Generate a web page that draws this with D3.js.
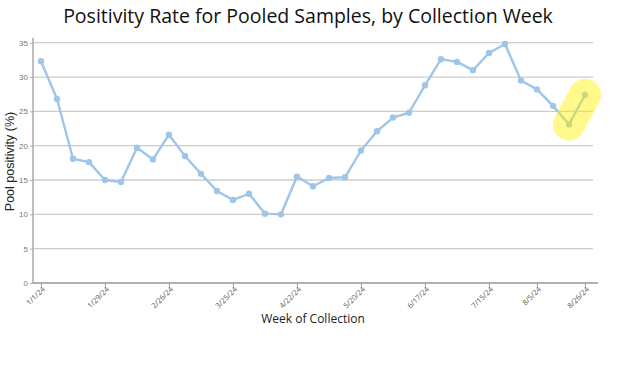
<!DOCTYPE html>
<html>
<head>
<meta charset="utf-8">
<script src="https://cdn.jsdelivr.net/npm/d3@7"></script>
<style>
  body { margin: 0; background: #fff; }
  svg { display: block; }
</style>
</head>
<body>
<div id="wrapper"></div>
<script>
// data
const weeks = ["1/1/24","1/8/24","1/15/24","1/22/24","1/29/24","2/5/24","2/12/24","2/19/24",
  "2/26/24","3/4/24","3/11/24","3/18/24","3/25/24","4/1/24","4/8/24","4/15/24",
  "4/22/24","4/29/24","5/6/24","5/13/24","5/20/24","5/27/24","6/3/24","6/10/24",
  "6/17/24","6/24/24","7/1/24","7/8/24","7/15/24","7/22/24","7/29/24","8/5/24",
  "8/12/24","8/19/24","8/26/24"];
const positivity = [32.3, 26.8, 18.1, 17.6, 15.0, 14.7, 19.7, 18.0, 21.6, 18.5,
  15.9, 13.4, 12.1, 13.0, 10.1, 10.0, 15.5, 14.1, 15.3, 15.4,
  19.3, 22.1, 24.1, 24.8, 28.8, 32.6, 32.2, 31.0, 33.5, 34.8,
  29.5, 28.2, 25.8, 23.1, 27.4];
const tickWeeks = ["1/1/24","1/29/24","2/26/24","3/25/24","4/22/24","5/20/24","6/17/24","7/15/24","8/5/24","8/26/24"];
const yTicks = [0, 5, 10, 15, 20, 25, 30, 35];
const highlightWeeks = ["8/19/24", "8/26/24"];

const dataset = weeks.map((w, i) => ({ week: w, value: positivity[i] }));
const xAccessor = d => d.week;
const yAccessor = d => d.value;

// dimensions
const dimensions = {
  width: 642,
  height: 376,
  margin: { top: 40, right: 49, bottom: 93, left: 33 }
};
dimensions.boundedWidth = dimensions.width - dimensions.margin.left - dimensions.margin.right;
dimensions.boundedHeight = dimensions.height - dimensions.margin.top - dimensions.margin.bottom;

const wrapper = d3.select('#wrapper')
  .append('svg')
  .attr('width', dimensions.width)
  .attr('height', dimensions.height);

const bounds = wrapper.append('g')
  .attr('transform', `translate(${dimensions.margin.left},${dimensions.margin.top})`);

// scales
const xScale = d3.scaleBand()
  .domain(weeks)
  .range([0, dimensions.boundedWidth]);
const xPos = w => xScale(w) + xScale.bandwidth() / 2;

const yScale = d3.scaleLinear()
  .domain([0, 35])
  .range([dimensions.boundedHeight, 2.7]);

// gridlines
bounds.append('g')
  .selectAll('line')
  .data(yTicks.filter(t => t > 0))
  .join('line')
  .attr('x1', 0)
  .attr('x2', dimensions.boundedWidth)
  .attr('y1', d => yScale(d))
  .attr('y2', d => yScale(d))
  .attr('stroke', '#cccccc')
  .attr('stroke-width', 1.3);

// axes
const yAxis = bounds.append('g')
  .call(d3.axisLeft(yScale).tickValues(yTicks).tickSize(3).tickPadding(2));
yAxis.select('.domain').attr('stroke', '#aaa').attr('stroke-width', 1.5)
  .attr('d', `M0,${yScale(35) - 5}V${dimensions.boundedHeight}`);
yAxis.selectAll('.tick line').attr('stroke', '#aaa');
yAxis.selectAll('.tick text')
  .attr('fill', '#777')
  .style('font-family', 'Liberation Sans, Arial, sans-serif')
  .style('font-size', '8px');

const xAxis = bounds.append('g')
  .attr('transform', `translate(0,${dimensions.boundedHeight})`)
  .call(d3.axisBottom(d3.scalePoint().domain(weeks).range([xPos(weeks[0]), xPos(weeks[weeks.length - 1])]))
    .tickValues(tickWeeks).tickSize(3).tickSizeOuter(0));
xAxis.select('.domain').attr('stroke', '#999').attr('stroke-width', 1.3)
  .attr('d', `M0,0H${dimensions.boundedWidth + 5}`);
xAxis.selectAll('.tick line').attr('stroke', '#999');
xAxis.selectAll('.tick text')
  .attr('fill', '#555')
  .style('font-family', 'Open Sans, sans-serif')
  .style('font-size', '7.5px')
  .attr('text-anchor', 'end')
  .attr('x', -2)
  .attr('y', 5)
  .attr('dy', '0.35em')
  .attr('transform', 'rotate(-45)');

// line
const lineGenerator = d3.line()
  .x(d => xPos(xAccessor(d)))
  .y(d => yScale(yAccessor(d)));

bounds.append('path')
  .datum(dataset)
  .attr('d', lineGenerator)
  .attr('fill', 'none')
  .attr('stroke', '#9fc5e8')
  .attr('stroke-width', 2.4)
  .attr('stroke-linejoin', 'round');

bounds.selectAll('circle')
  .data(dataset)
  .join('circle')
  .attr('cx', d => xPos(xAccessor(d)))
  .attr('cy', d => yScale(yAccessor(d)))
  .attr('r', 3.2)
  .attr('fill', '#9fc5e8');

// highlight marker
const hl = dataset.filter(d => highlightWeeks.includes(d.week));
bounds.append('path')
  .datum(hl)
  .attr('d', lineGenerator)
  .attr('fill', 'none')
  .attr('stroke', '#fff200')
  .attr('stroke-opacity', 0.45)
  .attr('stroke-width', 32)
  .attr('stroke-linecap', 'round');

// labels
wrapper.append('text')
  .attr('x', 308)
  .attr('y', 23)
  .attr('text-anchor', 'middle')
  .style('font-family', 'Open Sans, sans-serif')
  .style('font-size', '19.5px')
  .attr('fill', '#111')
  .text('Positivity Rate for Pooled Samples, by Collection Week');

wrapper.append('text')
  .attr('transform', `translate(14,${dimensions.margin.top + dimensions.boundedHeight / 2}) rotate(-90)`)
  .attr('text-anchor', 'middle')
  .style('font-family', 'Liberation Sans, Arial, sans-serif')
  .style('font-size', '12.5px')
  .attr('fill', '#222')
  .text('Pool positivity (%)');

wrapper.append('text')
  .attr('x', dimensions.margin.left + dimensions.boundedWidth / 2)
  .attr('y', 323)
  .attr('text-anchor', 'middle')
  .style('font-family', 'Open Sans, sans-serif')
  .style('font-size', '12px')
  .attr('fill', '#222')
  .text('Week of Collection');
</script>
</body>
</html>
